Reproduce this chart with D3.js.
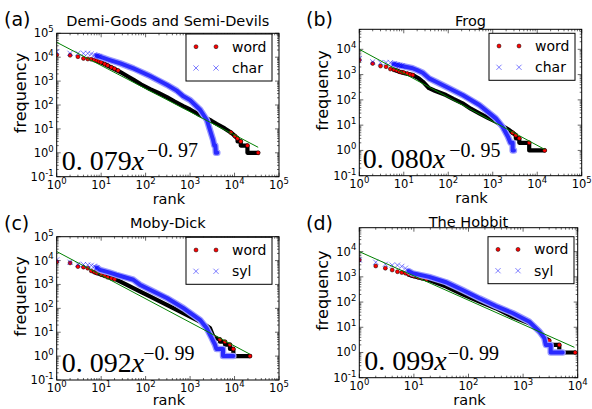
<!DOCTYPE html>
<html><head><meta charset="utf-8">
<script src="https://cdn.jsdelivr.net/npm/d3@7"></script>
<style>body{margin:0;background:#fff}svg{display:block}</style>
</head><body>
<svg id="chart" width="592" height="409"></svg>
<script>
// ---------- data ----------
const titles = ["Demi-Gods and Semi-Devils", "Frog", "Moby-Dick", "The Hobbit"];
const panelTags = ["(a)", "(b)", "(c)", "(d)"];
const seriesNames = ["word", "char", "char", "syl", "syl"];
const unitNames = ["char", "char", "syl", "syl"];
const fitCoef = ["0. 079", "0. 080", "0. 092", "0. 099"];
const fitExp = ["\u22120. 97", "\u22120. 95", "\u22120. 99", "\u22120. 99"];
const xTickExps = [[0,1,2,3,4,5],[0,1,2,3,4,5],[0,1,2,3,4,5],[0,1,2,3,4]];
const yTickExps = [[-1,0,1,2,3,4,5],[-1,0,1,2,3,4],[-1,0,1,2,3,4,5],[-1,0,1,2,3,4]];
const xMax = [1e5, 1e5, 1e5, 1e4];
const yMax = [1e5, 6.2e4, 1e5, 8.9e4];

// (a) Demi-Gods and Semi-Devils
const wordA = [[1,12500],[2,12000],[3,10500],[4,8900],[5,8400],[6,8200],[7,7600],[8,7100],[9,6500],[10,6100],[12,5200],[14,4500],[17,3800],[20,3300],[24,2800],[8300,7],[10200,5],[11700,4],[13800,3],[19500,2],[34000,1]];
const wordA_band = [[8,7100],[10,6100],[13,4800],[18,3500],[27,2400],[40,1550],[55,1100],[80,720],[126,460],[200,310],[300,215],[450,140],[700,90],[1000,65],[1500,42],[2000,32],[3000,22],[4000,16],[6000,10.5],[8300,7],[9200,6],[10200,5],[11700,4],[11700,3],[13800,3],[13800,2],[19500,2],[19500,1],[34000,1]];
const charA = [[1,17000],[2,14500],[3,14500],[4,14500],[5,14500],[6,13600],[7,12300],[8,11500],[9,10800]];
const charA_band = [[8,11500],[10,10000],[15,7800],[27,5500],[53,3400],[126,1630],[300,700],[500,400],[710,230],[1000,160],[1700,62],[2400,23],[2800,9],[3300,3.4],[3500,2],[3700,2],[3800,1],[4100,1]];
const fitA = [[1,42000],[34000,1.7]];

// (b) Frog
const wordB = [[1,3800],[2,2760],[3,2180],[4,2050],[5,1660],[6,1550],[7,1450],[8,1300],[9,1250],[10,1200],[12,1100],[14,1000],[16,960],[2800,5],[3300,4],[3950,3],[6600,2],[14700,1]];
const wordB_band = [[6,1550],[8,1300],[11,1100],[16,960],[22,700],[27,520],[37,290],[50,230],[89,155],[130,110],[210,73],[320,45],[500,29.5],[800,19],[1170,13.7],[1700,9],[2350,6.4],[2800,5],[3300,4],[3300,3],[3950,3],[3950,2],[6600,2],[6600,1],[14700,1]];
const charB = [[1,4300],[2,3200],[3,2950],[4,3000],[5,2950],[6,2600],[7,2450],[8,2300],[9,2200]];
const charB_band = [[6,2600],[9,2200],[15.8,1780],[20,1500],[26.6,1180],[37,710],[53,520],[89,330],[210,155],[500,63],[1170,18.6],[1660,8.7],[2200,3.5],[2500,2],[2800,2],[2800,1],[3000,1]];
const fitB = [[1,10000],[14700,1.1]];

// (c) Moby-Dick
const wordC = [[1,9000],[2,8000],[3,5600],[4,5300],[5,4800],[6,3700],[7,3300],[8,3000],[10,2600],[12,2300],[14,2000],[17,1800],[20,1650],[3340,6.6],[4700,5],[6100,4],[7900,3],[9400,2],[22300,1]];
const wordC_band = [[7,3300],[8,3000],[13,2200],[22,1600],[37,980],[74,510],[125,316],[300,140],[700,63],[1670,28],[2800,15],[3340,6.6],[4000,5.5],[4700,5],[4700,4],[6100,4],[6100,3],[7900,3],[7900,2],[9400,2],[9400,1],[22300,1]];
const sylC = [[1,10700],[2,8500],[3,7000],[4,6800],[5,6600],[6,6300],[7,5800],[8,5000]];
const sylC_band = [[8,5000],[9.4,4100],[15,3200],[22,2550],[53,1580],[74,980],[125,600],[300,270],[710,102],[1670,33],[2350,15],[3070,5.7],[3630,3],[3900,2],[5500,2],[5500,1],[9400,1]];
const fitC = [[1,24000],[22300,1.2]];

// (d) The Hobbit
const wordD = [[1,4700],[2,2700],[3,2200],[4,1870],[5,1600],[6,1480],[7,1400],[8,1250],[9,1150],[10,1080],[12,960],[14,880],[17,800],[2450,4],[3000,3],[4600,2],[9000,1]];
const wordD_band = [[8,1250],[9.5,1090],[19,750],[39,410],[78,204],[158,104],[316,57],[650,26],[1300,14.4],[1740,9],[2450,4],[2450,4],[3000,3],[3000,2],[4600,2],[4600,1],[9000,1]];
const sylD = [[1,4700],[2,3800],[3,3160],[4,2900],[5,2900],[6,2600],[7,2200]];
const sylD_band = [[8,1700],[9.5,1380],[19,1000],[39,610],[78,300],[158,141],[316,70],[650,36],[1300,16.6],[2000,6.7],[2450,3.7],[2600,2],[3200,2],[3200,1],[5300,1]];
const fitD = [[1,10000],[8700,1.6]];

const wordSeries = [wordA, wordB, wordC, wordD];
const wordBands = [wordA_band, wordB_band, wordC_band, wordD_band];
const unitSeries = [charA, charB, sylC, sylD];
const unitBands = [charA_band, charB_band, sylC_band, sylD_band];
const fits = [fitA, fitB, fitC, fitD];

// ---------- layout ----------
const frames = [
  {x0:56.7, x1:279, y0:33.3, y1:176.7, tagX:4, tagY:26, legX:186, legY:34, titleY:26, rankY:203.5},
  {x0:359.3, x1:581.7, y0:29.3, y1:175.7, tagX:306, tagY:26, legX:489, legY:33.3, titleY:25.5, rankY:202.5},
  {x0:56.7, x1:279, y0:236.7, y1:380, tagX:4, tagY:230, legX:186, legY:237.3, titleY:228, rankY:405},
  {x0:359.3, x1:577.7, y0:227.7, y1:377.7, tagX:306, tagY:230, legX:488, legY:236.7, titleY:226.5, rankY:405}
];
const eqPos = [
  {x:61.7, y:170, ex:146.7, ey:156.7},
  {x:362.7, y:168.3, ex:449.3, ey:156.7},
  {x:61.7, y:371.7, ex:143.3, ey:360},
  {x:364.3, y:370, ex:447.7, ey:360}
];

const svg = d3.select("#chart");
const SANS = "DejaVu Sans, sans-serif";

function supLabel(sel, base, exp, size, supSize) {
  sel.append("tspan").attr("font-size", size).text(base);
  sel.append("tspan").attr("font-size", supSize).attr("dy", -size*0.45).text(exp);
}

frames.forEach((f, i) => {
  const g = svg.append("g");
  const x = d3.scaleLog().domain([1, xMax[i]]).range([f.x0, f.x1]);
  const y = d3.scaleLog().domain([0.1, yMax[i]]).range([f.y1, f.y0]);
  const clipId = "clip" + i;
  svg.append("clipPath").attr("id", clipId).append("rect")
    .attr("x", f.x0).attr("y", f.y0).attr("width", f.x1 - f.x0).attr("height", f.y1 - f.y0);

  // ticks (inside, all four sides)
  const xTicks = x.ticks();
  const yTicks = y.ticks();
  const isMajor = v => Math.abs(Math.log10(v) - Math.round(Math.log10(v))) < 1e-9;
  const tk = g.append("g").attr("stroke", "#000").attr("stroke-width", 0.6);
  xTicks.forEach(v => {
    const L = isMajor(v) ? 4 : 2, px = x(v);
    tk.append("line").attr("x1", px).attr("x2", px).attr("y1", f.y1).attr("y2", f.y1 - L);
    tk.append("line").attr("x1", px).attr("x2", px).attr("y1", f.y0).attr("y2", f.y0 + L);
  });
  yTicks.forEach(v => {
    const L = isMajor(v) ? 4 : 2, py = y(v);
    tk.append("line").attr("y1", py).attr("y2", py).attr("x1", f.x0).attr("x2", f.x0 + L);
    tk.append("line").attr("y1", py).attr("y2", py).attr("x1", f.x1).attr("x2", f.x1 - L);
  });

  // tick labels
  xTickExps[i].forEach(e => {
    const t = g.append("text").attr("x", x(Math.pow(10, e))).attr("y", f.y1 + 12)
      .attr("text-anchor", "middle").attr("font-family", SANS).attr("fill", "#000");
    supLabel(t, "10", String(e), 11.5, 8.5);
  });
  yTickExps[i].forEach(e => {
    const t = g.append("text").attr("x", f.x0 - 3).attr("y", y(Math.pow(10, e)) + 4)
      .attr("text-anchor", "end").attr("font-family", SANS).attr("fill", "#000");
    supLabel(t, "10", e < 0 ? "-" + (-e) : String(e), 11.5, 8.5);
  });

  // data
  const plot = g.append("g").attr("clip-path", `url(#${clipId})`);
  const line = d3.line().x(d => x(d[0])).y(d => y(d[1]));
  // word band + dots
  plot.append("path").datum(wordBands[i]).attr("d", line)
    .attr("fill", "none").attr("stroke", "#000").attr("stroke-width", 4.2)
    .attr("stroke-linejoin", "round").attr("stroke-linecap", "round");
  plot.selectAll(".wd").data(wordSeries[i]).join("circle")
    .attr("cx", d => x(d[0])).attr("cy", d => y(d[1])).attr("r", 2)
    .attr("fill", "#ff0000").attr("stroke", "#000").attr("stroke-width", 0.5);
  // unit band + x markers
  plot.append("path").datum(unitBands[i]).attr("d", line)
    .attr("fill", "none").attr("stroke", "#9a9aff").attr("stroke-width", 6.5)
    .attr("stroke-linejoin", "round").attr("stroke-linecap", "round");
  plot.append("path").datum(unitBands[i]).attr("d", line)
    .attr("fill", "none").attr("stroke", "#2a2aff").attr("stroke-width", 4)
    .attr("stroke-linejoin", "round").attr("stroke-linecap", "round");
  const s = 2.6;
  plot.selectAll(".ux").data(unitSeries[i]).join("path")
    .attr("d", d => { const cx = x(d[0]), cy = y(d[1]);
      return `M${cx-s},${cy-s}L${cx+s},${cy+s}M${cx-s},${cy+s}L${cx+s},${cy-s}`; })
    .attr("stroke", "#0000ff").attr("stroke-opacity", 0.5).attr("stroke-width", 1).attr("fill", "none");
  // fit line
  plot.append("path").datum(fits[i]).attr("d", line)
    .attr("fill", "none").attr("stroke", "#008000").attr("stroke-width", 1);

  // frame
  g.append("rect").attr("x", f.x0).attr("y", f.y0).attr("width", f.x1 - f.x0).attr("height", f.y1 - f.y0)
    .attr("fill", "none").attr("stroke", "#000").attr("stroke-width", 1);

  // legend
  const lg = g.append("g").attr("transform", `translate(${f.legX},${f.legY})`);
  lg.append("rect").attr("x", 0).attr("y", 0).attr("width", 86).attr("height", 47)
    .attr("fill", "#fff").attr("stroke", "#000").attr("stroke-width", 1);
  [10, 30].forEach(mx => {
    lg.append("circle").attr("cx", mx).attr("cy", 12.7).attr("r", 2)
      .attr("fill", "#ff0000").attr("stroke", "#000").attr("stroke-width", 0.5);
    lg.append("path").attr("d", `M${mx-s},${34-s}L${mx+s},${34+s}M${mx-s},${34+s}L${mx+s},${34-s}`)
      .attr("stroke", "#0000ff").attr("stroke-opacity", 0.5).attr("stroke-width", 1);
  });
  lg.append("text").attr("x", 46).attr("y", 17.5).attr("font-family", SANS).attr("font-size", 14).text(seriesNames[0]);
  lg.append("text").attr("x", 46).attr("y", 39).attr("font-family", SANS).attr("font-size", 14).text(unitNames[i]);

  // equation
  const eq = eqPos[i];
  const et = g.append("text").attr("x", eq.x).attr("y", eq.y).attr("font-family", "Liberation Serif, serif").attr("font-size", 28);
  et.append("tspan").text(fitCoef[i]);
  et.append("tspan").attr("font-style", "italic").text("x");
  g.append("text").attr("x", eq.ex).attr("y", eq.ey).attr("font-family", "Liberation Serif, serif")
    .attr("font-size", 20).text(fitExp[i]);

  // title, axis labels, tag
  g.append("text").attr("x", (f.x0 + f.x1) / 2).attr("y", f.titleY).attr("text-anchor", "middle")
    .attr("font-family", SANS).attr("font-size", 14.5).text(titles[i]);
  g.append("text").attr("x", (f.x0 + f.x1) / 2 + 1).attr("y", f.rankY).attr("text-anchor", "middle")
    .attr("font-family", SANS).attr("font-size", 14.5).text("rank");
  g.append("text").attr("transform", `translate(${f.x0 - 31},${(f.y0 + f.y1) / 2 - 12}) rotate(-90)`)
    .attr("text-anchor", "middle").attr("font-family", SANS).attr("font-size", 16).text("frequency");
  g.append("text").attr("x", f.tagX).attr("y", f.tagY).attr("font-family", SANS).attr("font-size", 19).text(panelTags[i]);
});
</script>
</body></html>
